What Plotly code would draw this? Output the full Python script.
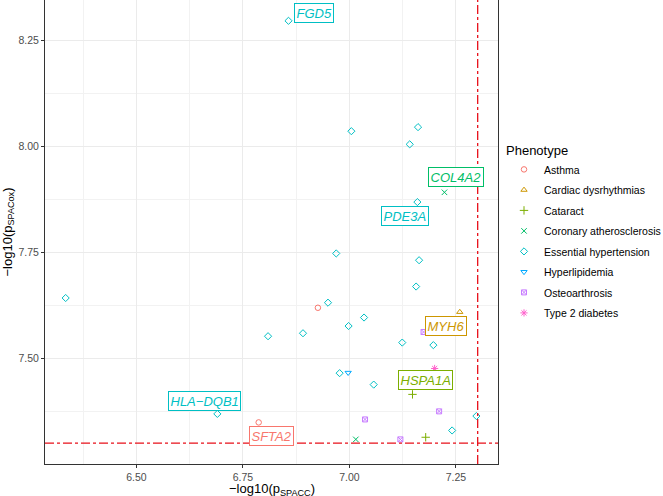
import plotly.graph_objects as go

# ---------------- data ----------------
phenotypes = ["Asthma", "Cardiac dysrhythmias", "Cataract", "Coronary atherosclerosis",
              "Essential hypertension", "Hyperlipidemia", "Osteoarthrosis", "Type 2 diabetes"]

asthma_x = [6.926, 6.787]
asthma_y = [7.620, 7.350]
asthma_gene = ["", "SFTA2"]

cardiac_x = [7.259]
cardiac_y = [7.610]
cardiac_gene = ["MYH6"]

cataract_x = [7.148, 7.179]
cataract_y = [7.416, 7.315]
cataract_gene = ["HSPA1A", ""]

coronary_x = [7.223, 7.015]
coronary_y = [7.892, 7.310]
coronary_gene = ["COL4A2", ""]

essential_x = [6.857, 7.0045, 7.161, 7.1415, 7.2018, 7.1595, 6.969, 7.1635, 7.1565,
               7.0343, 6.998, 7.124, 7.197, 6.9497, 6.809, 6.891, 6.334, 6.690,
               6.977, 7.057, 7.298, 7.241]
essential_y = [8.296, 8.036, 8.0455, 8.005, 7.939, 7.869, 7.748, 7.732, 7.670,
               7.597, 7.577, 7.538, 7.532, 7.632, 7.553, 7.560, 7.643, 7.370,
               7.466, 7.439, 7.365, 7.331]
essential_gene = ["FGD5", "", "", "", "", "PDE3A", "", "", "",
                  "", "", "", "", "", "", "", "", "HLA\u2212DQB1",
                  "", "", "", ""]

hyperlip_x = [6.997]
hyperlip_y = [7.467]
hyperlip_gene = [""]

osteo_x = [7.174, 7.2105, 7.0366, 7.1196]
osteo_y = [7.563, 7.376, 7.357, 7.310]
osteo_gene = ["", "", "", ""]

t2d_x = [7.200]
t2d_y = [7.477]
t2d_gene = [""]

threshold = 7.301  # -log10(5e-8)

x_ticks = [6.50, 6.75, 7.00, 7.25]
y_ticks = [7.50, 7.75, 8.00, 8.25]

# ---------------- styles ----------------
series = [
    (asthma_x, asthma_y, asthma_gene),
    (cardiac_x, cardiac_y, cardiac_gene),
    (cataract_x, cataract_y, cataract_gene),
    (coronary_x, coronary_y, coronary_gene),
    (essential_x, essential_y, essential_gene),
    (hyperlip_x, hyperlip_y, hyperlip_gene),
    (osteo_x, osteo_y, osteo_gene),
    (t2d_x, t2d_y, t2d_gene),
]
colors = ["#F8766D", "#CD9600", "#7CAE00", "#00BE67", "#00BFC4", "#00A9FF", "#C77CFF", "#FF61CC"]
symbols = ["circle-open", "triangle-up-open", "cross-thin-open", "x-thin-open",
           "diamond-open", "triangle-down-open", "square-x-open", "asterisk-open"]
sizes = [5.5, 5.5, 6, 5.5, 5.5, 5.5, 5, 6]

# label offsets in pixels (xshift, yshift)
label_offsets = {
    "FGD5": (25, 8),
    "COL4A2": (12, 15),
    "PDE3A": (-12, -14),
    "MYH6": (-14, -14),
    "HSPA1A": (13, 14),
    "HLA\u2212DQB1": (-13, 13),
    "SFTA2": (13, -14),
}

FONT = "Liberation Sans, Arial, Helvetica, sans-serif"
W, H = 663, 496
ML, MR, MT, MB = 45, 165, 0, 32
PW, PH = W - ML - MR, H - MT - MB

fig = go.Figure()

for name, (xs, ys, _), col, sym, sz in zip(phenotypes, series, colors, symbols, sizes):
    fig.add_trace(go.Scatter(
        x=xs, y=ys, mode="markers", name=name, legendgroup=name,
        marker=dict(symbol=sym, size=sz, color=col, line=dict(color=col, width=1)),
    ))

# threshold lines
fig.add_hline(y=threshold, line=dict(color="#E8101A", width=1.3, dash="dashdot"))
fig.add_vline(x=threshold, line=dict(color="#E8101A", width=1.3, dash="dashdot"))

# labels
for (xs, ys, genes), col in zip(series, colors):
    for xv, yv, g in zip(xs, ys, genes):
        if g:
            dx, dy = label_offsets[g]
            fig.add_annotation(
                x=xv, y=yv, xref="x", yref="y", text="<i>%s</i>" % g, showarrow=False,
                xshift=dx, yshift=dy, font=dict(family=FONT, size=13, color=col),
                bgcolor="white", bordercolor=col, borderwidth=1, borderpad=1.5,
            )

# axis titles
fig.add_annotation(
    x=0.5, y=-25.5 / PH, xref="paper", yref="paper", showarrow=False,
    text="\u2212log10(p<sub>SPACC</sub>)", xanchor="center", yanchor="middle",
    font=dict(family=FONT, size=13, color="black"),
)
fig.add_annotation(
    x=-37.5 / PW, y=0.5, xref="paper", yref="paper", showarrow=False, textangle=-90,
    text="\u2212log10(p<sub>SPACox</sub>)", xanchor="center", yanchor="middle",
    font=dict(family=FONT, size=13, color="black"),
)

axis_common = dict(
    showline=True, mirror=True, linecolor="#333333", linewidth=1,
    ticks="outside", ticklen=3, tickcolor="#333333", tickwidth=1,
    showgrid=True, gridcolor="#EBEBEB", gridwidth=1,
    tickfont=dict(family=FONT, size=10.5, color="#4D4D4D"),
    tickformat=".2f", zeroline=False, automargin=False,
)

fig.update_xaxes(
    range=[6.2855, 7.3487], tickvals=x_ticks,
    minor=dict(tickvals=[6.375, 6.625, 6.875, 7.125], showgrid=True,
               gridcolor="#F2F2F2", gridwidth=0.6, ticks=""),
    **axis_common,
)
fig.update_yaxes(
    range=[7.252, 8.345], tickvals=y_ticks,
    minor=dict(tickvals=[7.375, 7.625, 7.875, 8.125], showgrid=True,
               gridcolor="#F2F2F2", gridwidth=0.6, ticks=""),
    **axis_common,
)

fig.update_layout(
    width=W, height=H,
    margin=dict(l=ML, r=MR, t=MT, b=MB, autoexpand=False),
    paper_bgcolor="white", plot_bgcolor="white",
    showlegend=True,
    legend=dict(
        title=dict(text="Phenotype", font=dict(family=FONT, size=13, color="black")),
        font=dict(family=FONT, size=10.5, color="black"),
        x=1 + 6 / PW, xanchor="left", xref="paper",
        y=1 - 138 / PH, yanchor="top",
        bgcolor="rgba(0,0,0,0)", borderwidth=0, tracegroupgap=1.5,
    ),
)

fig.write_html(
    "out.html",
    config={"displayModeBar": False},
    post_script="document.body.style.margin='0';document.body.style.overflow='hidden';",
)
